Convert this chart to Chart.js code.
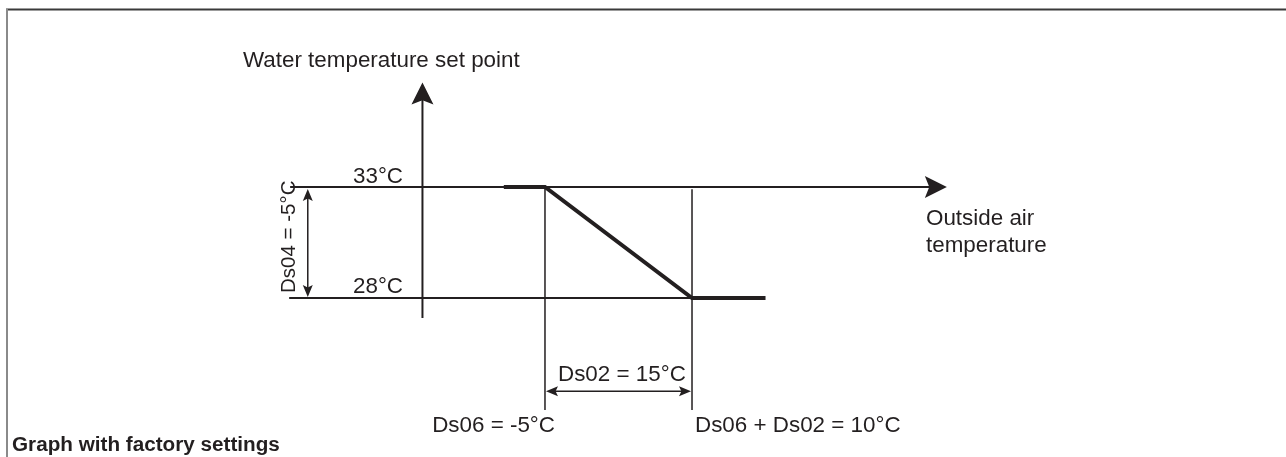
<!DOCTYPE html>
<html>
<head>
<meta charset="utf-8">
<script src="https://cdn.jsdelivr.net/npm/chart.js@4/dist/chart.umd.min.js"></script>
<style>
  html, body { margin: 0; padding: 0; background: #fff; }
  #wrap { width: 1286px; height: 457px; position: relative; }
</style>
</head>
<body>
<div id="wrap"><canvas id="chart"></canvas></div>
<script>
// set point curve (outside air temp -> water set point)
const curveX = [-9.2, -5, 10, 17.5];
const curveY = [33, 33, 28, 28];

// factory settings
const setHigh = 33;
const setLow = 28;
const ds06 = -5;
const ds02 = 15;
const ds04 = -5;

// axis extents, in chart units
const axisOriginX = -17.5;
const axisXRange = [-31, 36];
const axisYRange = [27.1, 37.7];
const lowLineStart = -31.1;
const guideBottom = 22.96;
const dimLineY = 23.8;
const dimLineX = -29.2;

// texts
const titleY = 'Water temperature set point';
const titleX = ['Outside air', 'temperature'];
const highLabel = setHigh + '°C';
const lowLabel = setLow + '°C';
const ds04Label = 'Ds04 = ' + ds04 + '°C';
const ds02Label = 'Ds02 = ' + ds02 + '°C';
const ds06Label = 'Ds06 = ' + ds06 + '°C';
const endLabel = 'Ds06 + Ds02 = ' + (ds06 + ds02) + '°C';
const footer = 'Graph with factory settings';

const ink = '#231f20';
const font = '"Liberation Sans", Arial, sans-serif';

function seg(x1, y1, x2, y2, width) {
    return {
        data: [{ x: x1, y: y1 }, { x: x2, y: y2 }],
        showLine: true,
        borderColor: ink,
        borderWidth: width,
        pointRadius: 0,
        clip: false
    };
}

const ds06End = ds06 + ds02;

const datasets = [
    seg(axisXRange[0], setHigh, axisXRange[1] - 1, setHigh, 2),
    seg(axisOriginX, axisYRange[0], axisOriginX, axisYRange[1] - 0.5, 2),
    seg(lowLineStart, setLow, ds06End, setLow, 2),
    seg(ds06, setHigh, ds06, guideBottom, 1.5),
    seg(ds06End, setHigh - 0.1, ds06End, guideBottom, 1.5),
    seg(ds06 + 0.6, dimLineY, ds06End - 0.6, dimLineY, 1.5),
    seg(dimLineX, setHigh - 0.3, dimLineX, setLow + 0.3, 1.5),
    {
        data: curveX.map((x, i) => ({ x: x, y: curveY[i] })),
        showLine: true,
        borderColor: ink,
        borderWidth: 4,
        borderJoinStyle: 'miter',
        pointRadius: 0,
        clip: false
    }
];

function arrow(ctx, tx, ty, dir, len, half) {
    // dir: 'up', 'down', 'left', 'right'
    ctx.beginPath();
    ctx.moveTo(tx, ty);
    if (dir === 'up') {
        ctx.lineTo(tx - half, ty + len); ctx.lineTo(tx, ty + len * 0.8); ctx.lineTo(tx + half, ty + len);
    } else if (dir === 'down') {
        ctx.lineTo(tx - half, ty - len); ctx.lineTo(tx, ty - len * 0.8); ctx.lineTo(tx + half, ty - len);
    } else if (dir === 'right') {
        ctx.lineTo(tx - len, ty - half); ctx.lineTo(tx - len * 0.8, ty); ctx.lineTo(tx - len, ty + half);
    } else {
        ctx.lineTo(tx + len, ty - half); ctx.lineTo(tx + len * 0.8, ty); ctx.lineTo(tx + len, ty + half);
    }
    ctx.closePath();
    ctx.fill();
}

const diagramPlugin = {
    id: 'diagram',
    beforeDraw(chart) {
        const ctx = chart.ctx;
        ctx.save();
        ctx.fillStyle = '#fff';
        ctx.fillRect(0, 0, chart.width, chart.height);
        // frame
        ctx.lineWidth = 2;
        ctx.strokeStyle = '#3a3a3a';
        ctx.beginPath(); ctx.moveTo(6, 9.5); ctx.lineTo(chart.width, 9.5); ctx.stroke();
        ctx.strokeStyle = '#8a8a8a';
        ctx.beginPath(); ctx.moveTo(7, 9); ctx.lineTo(7, chart.height); ctx.stroke();
        ctx.restore();
    },
    afterDatasetsDraw(chart) {
        const ctx = chart.ctx;
        const xs = chart.scales.x, ys = chart.scales.y;
        const px = v => xs.getPixelForValue(v);
        const py = v => ys.getPixelForValue(v);
        ctx.save();
        ctx.fillStyle = ink;

        // axis arrowheads
        arrow(ctx, px(axisXRange[1]), py(setHigh), 'right', 22, 11);
        arrow(ctx, px(axisOriginX), py(axisYRange[1]), 'up', 22, 11);

        // dimension arrowheads
        arrow(ctx, px(ds06) + 1, py(dimLineY), 'left', 12, 5);
        arrow(ctx, px(ds06End) - 1, py(dimLineY), 'right', 12, 5);
        arrow(ctx, px(dimLineX), py(setHigh) + 2, 'up', 12, 5);
        arrow(ctx, px(dimLineX), py(setLow) - 1, 'down', 12, 5);

        // texts
        ctx.textBaseline = 'alphabetic';
        ctx.font = '22.4px ' + font;
        ctx.textAlign = 'left';
        ctx.fillText(titleY, 243, 67);
        ctx.fillText(highLabel, 353, py(setHigh) - 4);
        ctx.fillText(lowLabel, 353, py(setLow) - 5);
        ctx.fillText(titleX[0], 926, py(setHigh) + 38);
        ctx.fillText(titleX[1], 926, py(setHigh) + 65);
        ctx.fillText(ds02Label, 558, py(dimLineY) - 10);
        ctx.fillText(endLabel, px(ds06End) + 3, 432);
        ctx.textAlign = 'right';
        ctx.fillText(ds06Label, px(ds06) + 10, 432);

        // rotated Ds04 label
        ctx.save();
        ctx.translate(295, py(setLow) - 5);
        ctx.rotate(-Math.PI / 2);
        ctx.textAlign = 'left';
        ctx.font = '20.5px ' + font;
        ctx.fillText(ds04Label, 0, 0);
        ctx.restore();

        ctx.textAlign = 'left';
        ctx.font = 'bold 20.7px ' + font;
        ctx.fillText(footer, 12, 451);
        ctx.restore();
    }
};

new Chart(document.getElementById('chart'), {
    type: 'scatter',
    data: { datasets: datasets },
    options: {
        responsive: true,
        maintainAspectRatio: false,
        animation: false,
        layout: { padding: 0 },
        plugins: { legend: { display: false }, tooltip: { enabled: false } },
        scales: {
            x: { type: 'linear', display: false, min: -60.6, max: 70.6 },
            y: { type: 'linear', display: false, min: 20.84, max: 41.42 }
        }
    },
    plugins: [diagramPlugin]
});
</script>
</body>
</html>
